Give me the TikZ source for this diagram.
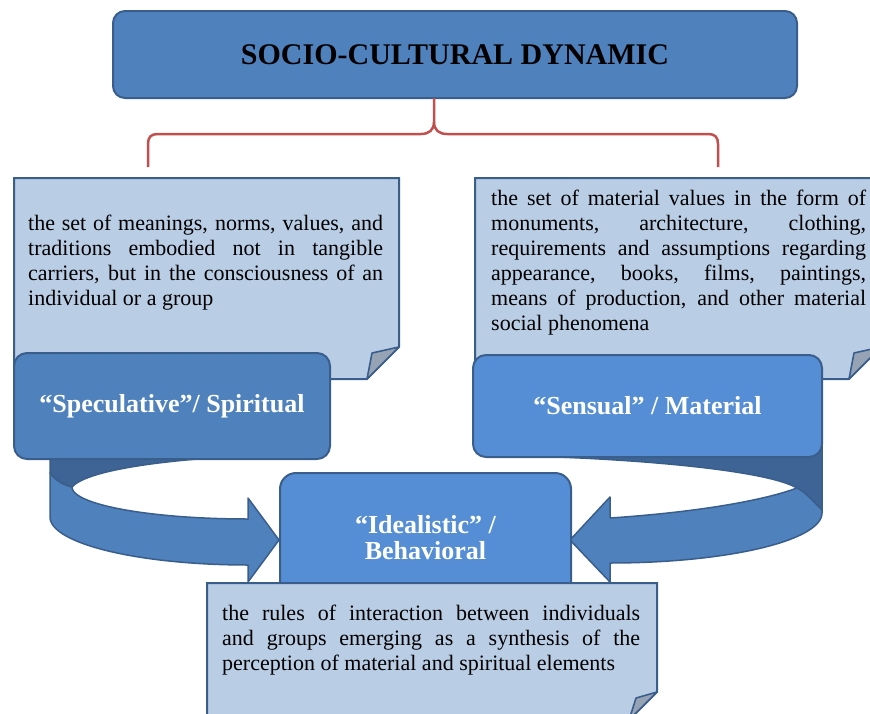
\documentclass[tikz,border=0pt]{standalone}
\usepackage{fontspec}
\setmainfont{Liberation Serif}
\definecolor{titleblue}{HTML}{4F81BD}
\definecolor{lightblue}{HTML}{558ED5}
\definecolor{edgeblue}{HTML}{3A5E8C}
\definecolor{notefill}{HTML}{B9CDE5}
\definecolor{flapfill}{HTML}{96A3B5}
\definecolor{ribbonback}{HTML}{3D6494}
\definecolor{bracered}{HTML}{C0504D}
% paragraph settings for the justified note texts
\newcommand\notesetup{\parindent=0pt \tolerance=10000 \hbadness=10000 \relax}
\begin{document}
\begin{tikzpicture}[x=1pt,y=-1pt,
  boxline/.style={draw=edgeblue, line width=2pt},
  titlebox/.style={boxline, fill=titleblue, rounded corners=12pt, inner sep=0pt,
    font={\fontsize{30}{36}\selectfont\bfseries}, text=black},
  labelbox/.style={boxline, rounded corners=13pt, inner sep=0pt, text=white,
    font={\fontsize{26}{26}\selectfont\bfseries}},
  notebody/.style={boxline, fill=notefill},
  noteflap/.style={boxline, line width=1.6pt, fill=flapfill, line join=round},
  notetext/.style={anchor=north west, inner sep=0pt, align=justify,
    font={\fontsize{22}{25}\selectfont\notesetup}},
  ribbonfront/.style={draw=edgeblue, line width=1.5pt, fill=titleblue, line join=round},
  ribbonrear/.style={draw=edgeblue, line width=1.5pt, fill=ribbonback, line join=round},
  bracestyle/.style={draw=bracered, line width=2.5pt}]

\useasboundingbox (0,0) rectangle (870,713);
\clip (0,0) rectangle (870,713);

% folded notes behind the two category labels
\filldraw[notebody] (14,178) -- (399,178) -- (399,347) -- (367,379) -- (14,379) -- cycle;
\filldraw[noteflap] (399,347) -- (372,353) -- (367,379) -- cycle;
\filldraw[notebody] (475,178) -- (881,178) -- (881,347) -- (849,379) -- (475,379) -- cycle;
\filldraw[noteflap] (881,347) -- (854,353) -- (849,379) -- cycle;

\node[notetext, text width=355pt] (spiritualtext) at (28,215)
  {the set of meanings, norms, values, and\linebreak
   traditions embodied not in tangible\linebreak
   carriers, but in the consciousness of an\linebreak
   individual or a group};
\node[notetext, text width=375pt] (materialtext) at (491,190)
  {the set of material values in the form of\linebreak
   monuments, architecture, clothing,\linebreak
   requirements and assumptions regarding\linebreak
   appearance, books, films, paintings,\linebreak
   means of production, and other material\linebreak
   social phenomena};

% left curved ribbon arrow
\filldraw[ribbonrear] (50,445) -- (50,473) .. controls (55,480) and (63,485) .. (72,487)
  .. controls (85,472) and (150,460) .. (260,455) -- (260,445) -- cycle;
\filldraw[ribbonfront] (50,473) -- (50,517)
  -- plot[domain=0:90,samples=40] ({248-198*cos(\x)},{517+48*sin(\x)})
  -- (248,582) -- (279,540) -- (248,498) -- (248,519)
  -- plot[domain=90:180,samples=40] ({248+176*cos(\x)},{487+32*sin(\x)})
  .. controls (63,485) and (55,480) .. (50,473) -- cycle;

% right curved ribbon arrow
\filldraw[ribbonrear] (822,445) -- (822,510) .. controls (812,500) and (805,492) .. (797,488)
  .. controls (770,472) and (660,460) .. (530,456) -- (530,445) -- cycle;
\filldraw[ribbonfront] (822,510) -- (822,513)
  -- plot[domain=0:90,samples=40] ({610+212*cos(\x)},{513+50*sin(\x)})
  -- (610,582) -- (570,540) -- (610,497) -- (610,518)
  .. controls (700,512) and (765,500) .. (797,488)
  .. controls (805,492) and (812,500) .. (822,510) -- cycle;

% category labels
\node[labelbox, fill=titleblue, minimum width=316pt, minimum height=106pt]
  (spiritual) at (172,406) {“Speculative”/ Spiritual};
\node[labelbox, fill=lightblue, minimum width=349pt, minimum height=102pt]
  (material) at (647.5,406) {“Sensual” / Material};
\node[labelbox, fill=lightblue, rounded corners=16pt, minimum width=291pt,
  minimum height=130pt, align=center]
  (behavioral) at (425.5,538) {“Idealistic” /\\Behavioral};

% note under the behavioral label
\filldraw[notebody] (207,583) -- (657,583) -- (657,692) -- (629,720) -- (207,720) -- cycle;
\filldraw[noteflap] (657,692) -- (636,698) -- (629,720) -- cycle;
\node[notetext, text width=418pt] (behavioraltext) at (222,605)
  {the rules of interaction between individuals\linebreak
   and groups emerging as a synthesis of the\linebreak
   perception of material and spiritual elements};

% title and brace
\node[titlebox, minimum width=684pt, minimum height=87pt] (title) at (455,54.5)
  {SOCIO-CULTURAL DYNAMIC};
\coordinate (bracetop) at (434,98);
\coordinate (braceleft) at (148,167);
\coordinate (braceright) at (718,167);
\draw[bracestyle] (braceleft) -- (148,144) .. controls (148,137) and (151,134) .. (158,134)
  -- (421,134) .. controls (429,134) and (434,130) .. (434,122) -- (bracetop);
\draw[bracestyle] (braceright) -- (718,144) .. controls (718,137) and (715,134) .. (708,134)
  -- (447,134) .. controls (439,134) and (434,130) .. (434,122);
\end{tikzpicture}
\end{document}
